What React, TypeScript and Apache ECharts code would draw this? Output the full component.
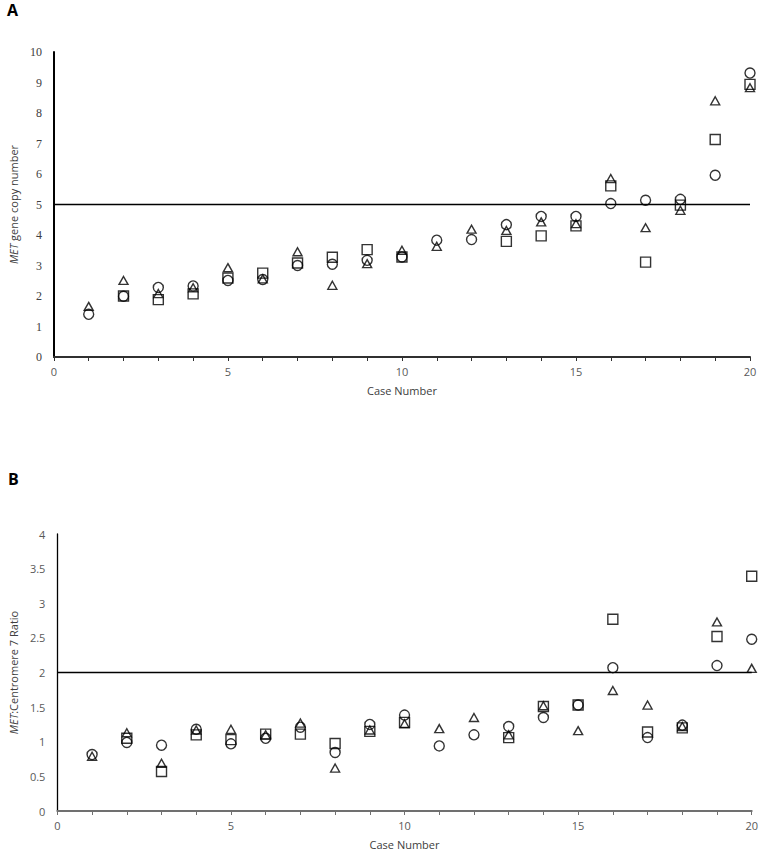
import React, { useEffect, useRef } from "react";
import * as echarts from "echarts";

const cases = [1, 2, 3, 4, 5, 6, 7, 8, 9, 10, 11, 12, 13, 14, 15, 16, 17, 18, 19, 20];

// Panel A: MET gene copy number
const copyCircle = [1.40, 1.99, 2.28, 2.33, 2.51, 2.54, 3.0, 3.04, 3.17, 3.28, 3.83, 3.85, 4.34, 4.61, 4.61, 5.03, 5.14, 5.17, 5.96, 9.31];
const copySquare = [null, 2.0, 1.88, 2.07, 2.59, 2.75, 3.08, 3.27, 3.52, 3.28, null, null, 3.79, 3.97, 4.30, 5.61, 3.11, 4.98, 7.13, 8.94];
const copyTriangle = [1.66, 2.51, 2.08, 2.27, 2.93, 2.56, 3.45, 2.35, 3.06, 3.50, 3.63, 4.19, 4.15, 4.43, 4.37, 5.85, 4.24, 4.81, 8.40, 8.83];
const copyThreshold = 5;

// Panel B: MET:Centromere 7 ratio
const ratioCircle = [0.815, 0.99, 0.95, 1.18, 0.97, 1.05, 1.21, 0.845, 1.25, 1.385, 0.94, 1.10, 1.22, 1.35, 1.53, 2.07, 1.06, 1.24, 2.10, 2.48];
const ratioSquare = [null, 1.05, 0.57, 1.10, 1.03, 1.11, 1.11, 0.975, 1.15, 1.28, null, null, 1.06, 1.51, 1.53, 2.77, 1.14, 1.20, 2.52, 3.39];
const ratioTriangle = [0.79, 1.13, 0.69, 1.17, 1.18, 1.10, 1.27, 0.62, 1.17, 1.26, 1.19, 1.35, 1.10, 1.52, 1.16, 1.74, 1.53, 1.22, 2.73, 2.06];
const ratioThreshold = 2;

const xRange = [0, 20];

function pts(vals: (number | null)[]) {
  return cases.map((c, i) => [c, vals[i]]).filter((p) => p[1] !== null);
}

export default function App() {
  const ref = useRef<HTMLDivElement>(null);
  useEffect(() => {
    document.body.style.margin = "0";
    const chart = echarts.init(ref.current!, null, { renderer: "svg" });
    const sans = "'Open Sans', 'Noto Sans', sans-serif";
    const mk = (symbol: string, size: number | number[]) => ({
      type: "scatter" as const,
      symbol,
      symbolSize: size,
      itemStyle: { color: "rgba(0,0,0,0)", borderColor: "#000", borderWidth: 1.4 },
      z: 3,
    });
    const xAxisCommon = (gridIndex: number, lineColor: string) => ({
      type: "value",
      gridIndex,
      min: 0,
      max: 20,
      interval: 5,
      name: "Case Number",
      nameLocation: "middle",
      nameGap: 28,
      nameTextStyle: { fontFamily: sans, fontSize: 11, color: "#404040" },
      axisLine: { show: true, onZero: false, lineStyle: { color: lineColor, width: 2 } },
      axisTick: { show: true, length: 4, inside: false, lineStyle: { color: lineColor } },
      minorTick: { show: true, splitNumber: 5, length: 4, lineStyle: { color: lineColor } },
      axisLabel: { fontFamily: sans, fontSize: 11, color: "#595959", margin: 9 },
      splitLine: { show: false },
    });
    chart.setOption({
      animation: false,
      backgroundColor: "#fff",
      graphic: [
        { type: "text", left: 7, top: 2, style: { text: "A", font: "bold 16px 'Open Sans', sans-serif", fill: "#000" } },
        { type: "text", left: 8, top: 471, style: { text: "B", font: "bold 16px 'Open Sans', sans-serif", fill: "#000" } },
      ],
      grid: [
        { left: 41, top: 52, right: 11, height: 305, containLabel: false },
        { left: 45, top: 534, right: 8, height: 277, containLabel: false },
      ],
      xAxis: [xAxisCommon(0, "#303030"), xAxisCommon(1, "#707070")],
      yAxis: [
        {
          type: "value",
          gridIndex: 0,
          min: 0,
          max: 10,
          interval: 1,
          name: "{i|MET} gene copy number",
          nameLocation: "middle",
          nameGap: 23,
          nameTextStyle: {
            fontFamily: sans,
            fontSize: 11,
            color: "#404040",
            rich: { i: { fontStyle: "italic", fontFamily: sans, fontSize: 11, color: "#404040" } },
          },
          axisLine: { show: true, lineStyle: { color: "#000", width: 2 } },
          axisTick: { show: false },
          axisLabel: { fontFamily: "'Liberation Serif', serif", fontSize: 12, color: "#404040", margin: 12 },
          splitLine: { show: false },
        },
        {
          type: "value",
          gridIndex: 1,
          min: 0,
          max: 4,
          interval: 0.5,
          name: "{i|MET}:Centromere 7 Ratio",
          nameLocation: "middle",
          nameGap: 32,
          nameTextStyle: {
            fontFamily: sans,
            fontSize: 11,
            color: "#404040",
            rich: { i: { fontStyle: "italic", fontFamily: sans, fontSize: 11, color: "#404040" } },
          },
          axisLine: { show: true, lineStyle: { color: "#000", width: 1.3 } },
          axisTick: { show: false },
          axisLabel: { fontFamily: sans, fontSize: 11, color: "#595959", margin: 12 },
          splitLine: { show: false },
        },
      ],
      series: [
        { ...mk("circle", 10), name: "A circle", xAxisIndex: 0, yAxisIndex: 0, data: pts(copyCircle) },
        { ...mk("rect", 10), name: "A square", xAxisIndex: 0, yAxisIndex: 0, data: pts(copySquare) },
        { ...mk("triangle", [9, 8]), name: "A triangle", xAxisIndex: 0, yAxisIndex: 0, data: pts(copyTriangle) },
        {
          type: "line",
          name: "A threshold",
          xAxisIndex: 0,
          yAxisIndex: 0,
          symbol: "none",
          lineStyle: { color: "#000", width: 1.5 },
          data: xRange.map((x) => [x, copyThreshold]),
          z: 2,
        },
        { ...mk("circle", 10), name: "B circle", xAxisIndex: 1, yAxisIndex: 1, data: pts(ratioCircle) },
        { ...mk("rect", 10), name: "B square", xAxisIndex: 1, yAxisIndex: 1, data: pts(ratioSquare) },
        { ...mk("triangle", [9, 8]), name: "B triangle", xAxisIndex: 1, yAxisIndex: 1, data: pts(ratioTriangle) },
        {
          type: "line",
          name: "B threshold",
          xAxisIndex: 1,
          yAxisIndex: 1,
          symbol: "none",
          lineStyle: { color: "#000", width: 1.5 },
          data: xRange.map((x) => [x, ratioThreshold]),
          z: 2,
        },
      ],
    });
    return () => chart.dispose();
  }, []);
  return <div ref={ref} style={{ width: 761, height: 851 }} />;
}
